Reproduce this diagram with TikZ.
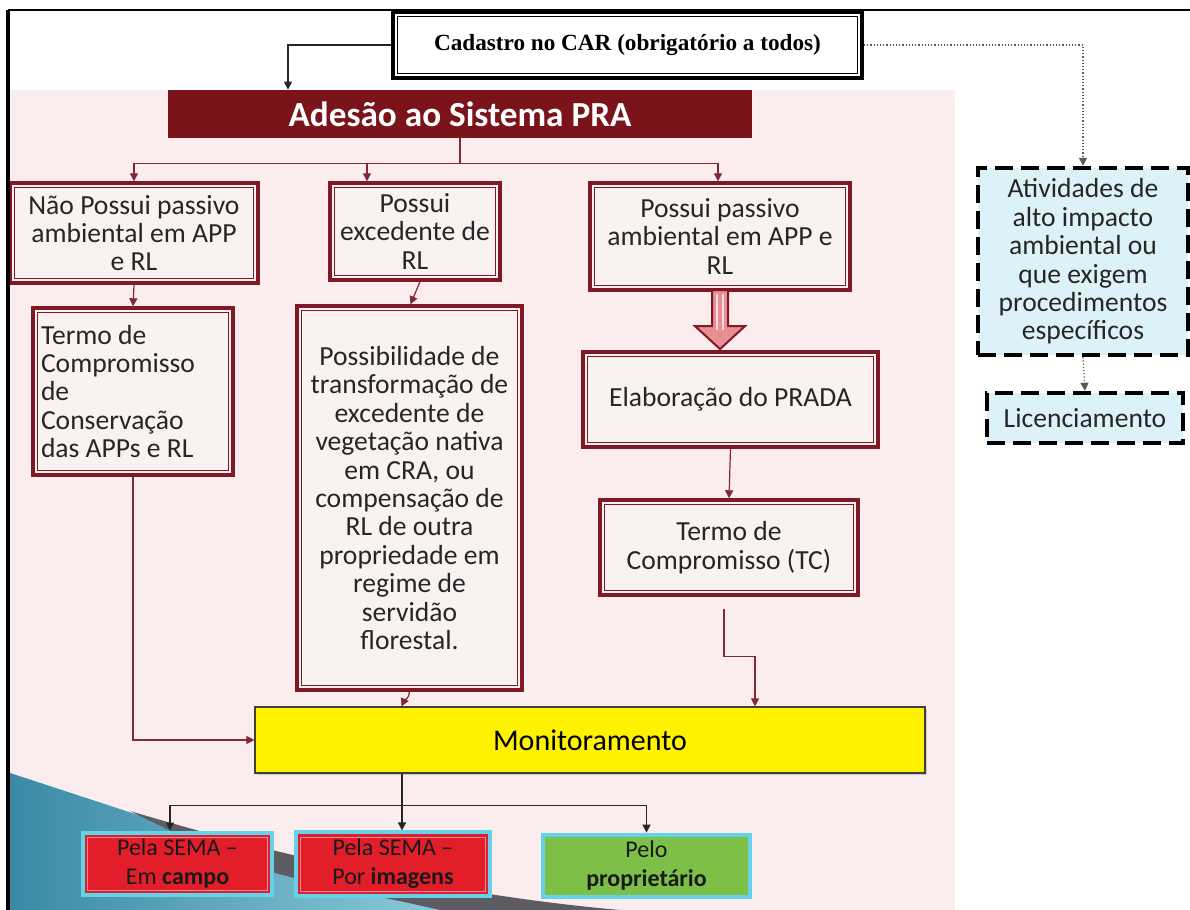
\documentclass[tikz,border=0pt]{standalone}
\usepackage{fontspec}
\setmainfont{Carlito}
\newfontfamily\serifbold{Liberation Serif}
\usetikzlibrary{arrows.meta,calc,shadows}

\definecolor{dred}{RGB}{128,24,38}
\definecolor{barred}{RGB}{122,20,26}
\definecolor{pinkbg}{RGB}{251,237,237}
\definecolor{boxpink}{RGB}{250,241,241}
\definecolor{linered}{RGB}{128,40,52}
\definecolor{semared}{RGB}{226,30,42}
\definecolor{semaline}{RGB}{240,140,150}
\definecolor{glow}{RGB}{100,210,232}
\definecolor{leaf}{RGB}{125,192,72}
\definecolor{paleblue}{RGB}{221,242,248}
\definecolor{tealdark}{RGB}{58,138,165}
\definecolor{teallight}{RGB}{140,202,218}
\definecolor{swoosh}{RGB}{92,92,98}
\definecolor{arrowpink}{RGB}{232,142,148}

\tikzset{
  bodytext/.style={font=\fontsize{13.8pt}{14.2pt}\selectfont, text=black!85},
  innerline/.style 2 args={path picture={
      \draw[#1, line width=#2]
        ([shift={(2.3pt,2.3pt)}]path picture bounding box.south west) rectangle
        ([shift={(-2.3pt,-2.3pt)}]path picture bounding box.north east);}},
  redbox/.style={bodytext, draw=dred, line width=1.7pt, fill=boxpink,
    align=center, inner sep=2pt, innerline={dred}{0.5pt}},
  carbox/.style={draw=black, line width=2pt, fill=white, inner sep=2pt,
    innerline={black}{0.5pt}, font=\serifbold\bfseries\fontsize{11.6pt}{13pt}\selectfont},
  prabar/.style={fill=barred, text=white, font=\bfseries\fontsize{17.6pt}{20pt}\selectfont},
  monbox/.style={fill=yellow, draw=black!75, line width=0.6pt,
    drop shadow={opacity=0.35, shadow xshift=1.2pt, shadow yshift=-1.2pt},
    font=\fontsize{15pt}{17pt}\selectfont},
  bottombox/.style={draw=glow, line width=2pt, fill=#1, align=center,
    font=\fontsize{12pt}{14.5pt}\selectfont, text=black!90},
  semabox/.style={bottombox=semared, innerline={semaline}{0.4pt}},
  dashbox/.style={draw=black, line width=2.2pt, dash pattern=on 9pt off 4pt,
    fill=paleblue, align=center, bodytext},
  conn/.style={draw=linered, line width=0.6pt, -{Triangle[width=4pt,length=4pt]}},
  blkconn/.style={draw=black!85, line width=0.6pt, -{Triangle[width=4pt,length=4pt]}},
  dotconn/.style={draw=black!65, line width=0.6pt, densely dotted,
    -{Triangle[width=4pt,length=4pt]}},
}

\begin{document}
\begin{tikzpicture}[x=0.5pt,y=-0.5pt]
\useasboundingbox (0,0) rectangle (1190,910);
\fill[white] (0,0) rectangle (1190,910);

% slide background: pale pink panel and teal corner
\fill[pinkbg] (10,90) rectangle (955,910);
\shade[left color=tealdark, right color=teallight]
  (10,773) -- (300,868) -- (450,910) -- (10,910) -- cycle;
\fill[swoosh] (130,811) .. controls (280,856) and (450,895) .. (620,910)
  -- (440,910) .. controls (380,896) and (310,884) .. (262,869)
  .. controls (210,850) .. (130,811) -- cycle;

% nodes
\node[carbox, minimum width=234.5pt, minimum height=33pt] (cad) at (627.5,45)
  {Cadastro no CAR (obrigatório a todos)};
\node[prabar, minimum width=292pt, minimum height=24pt] (pra) at (460,114)
  {Adesão ao Sistema PRA};

\node[redbox, minimum width=124pt, minimum height=50pt] (nao) at (134,233)
  {Não Possui passivo\\ambiental em APP\\e RL};
\node[redbox, minimum width=85pt, minimum height=48.5pt] (exc) at (415,231.5)
  {Possui\\excedente de\\RL};
\node[redbox, minimum width=130pt, minimum height=53.5pt] (pas) at (720,236.5)
  {Possui passivo\\ambiental em APP e\\RL};

\node[redbox, align=flush left, text width=92pt, inner sep=0pt,
  minimum width=100pt, minimum height=83.5pt] (tcc) at (133,391.5)
  {Termo de\\Compromisso\\de\\Conservação\\das APPs e RL};
\node[redbox, minimum width=112.5pt, minimum height=192pt] (pos) at (409.5,498)
  {Possibilidade de\\transformação de\\excedente de\\vegetação nativa\\em CRA, ou\\compensação de\\RL de outra\\propriedade em\\regime de\\servidão\\florestal.};

\node[redbox, minimum width=147.5pt, minimum height=47.5pt] (prada) at (730.5,399.5)
  {Elaboração do PRADA};
\node[redbox, minimum width=129pt, minimum height=47.5pt] (tc) at (729,547.5)
  {Termo de\\Compromisso (TC)};

\node[monbox, minimum width=335pt, minimum height=33pt] (mon) at (590,740)
  {Monitoramento};

\node[semabox, minimum width=94.5pt, minimum height=31pt] (campo) at (177.5,864)
  {Pela SEMA –\\Em \textbf{campo}};
\node[semabox, minimum width=97pt, minimum height=31pt] (img) at (393,864)
  {Pela SEMA –\\Por \textbf{imagens}};
\node[bottombox=leaf, minimum width=103.5pt, minimum height=31pt] (prop) at (646.5,866)
  {Pelo\\\textbf{proprietário}};

\node[dashbox, minimum width=105pt, minimum height=93.5pt] (ativ) at (1083,261.5)
  {Atividades de\\alto impacto\\ambiental ou\\que exigem\\procedimentos\\específicos};
\node[dashbox, minimum width=98pt, minimum height=25pt] (lic) at (1085,418)
  {Licenciamento};

% connectors
\draw[blkconn] (cad.west) -| ([xshift=-86pt]pra.north);
\draw[dotconn] (cad.east) -| (ativ.north);
\draw[dotconn] (ativ.south) -- (lic.north);

\draw[linered, line width=0.6pt] (pra.south) -- ++(0,25) coordinate (split);
\draw[conn] (split) -| (nao.north);
\draw[conn] (split) -| ([xshift=-24pt]exc.north);
\draw[conn] (split) -| ([xshift=-1pt]pas.north);

\draw[conn] (nao.south) -- (tcc.north);
\draw[conn] ([xshift=2.5pt]exc.south) -- ([xshift=0.5pt]pos.north);

% hollow block arrow
\coordinate (ba) at ([yshift=0.8pt]pas.south);
\filldraw[draw=dred, line width=1pt, fill=arrowpink]
  ($(ba)+(-8,0)$) -- ($(ba)+(8,0)$) -- ($(ba)+(8,36)$) -- ($(ba)+(25,36)$)
  -- ($(ba)+(0,59)$) -- ($(ba)+(-25,36)$) -- ($(ba)+(-8,36)$) -- cycle;
\draw[white!70!arrowpink, line width=1.2pt]
  ($(ba)+(-3,4)$) -- ($(ba)+(-3,40)$) ($(ba)+(3,4)$) -- ($(ba)+(3,40)$);

\draw[conn] (prada.south) -- (tc.north);
\draw[conn] ([xshift=-2.5pt,yshift=-6pt]tc.south) -- ++(0,48)
  -| ([xshift=82.5pt]mon.north);
\draw[conn] (pos.south) to[out=-90,in=65] ([xshift=-4pt]pos.south |- mon.north);
\draw[conn] (tcc.south) |- (mon.west);

\coordinate (mdown) at ([xshift=-94pt]mon.south);
\draw[blkconn] (mdown) -- (mdown |- img.north);
\draw[black!85, line width=0.6pt] ($(mdown)+(0,32)$) coordinate (bus)
  -- (bus -| prop.north);
\draw[blkconn] (bus) -| ([xshift=-3.75pt]campo.north);
\draw[blkconn] (bus -| prop.north) -- (prop.north);

% slide frame
\draw[black, line width=0.6pt] (8,10) -- (1190,10);
\draw[black, line width=2pt] (8,10) -- (8,910);
\end{tikzpicture}
\end{document}
